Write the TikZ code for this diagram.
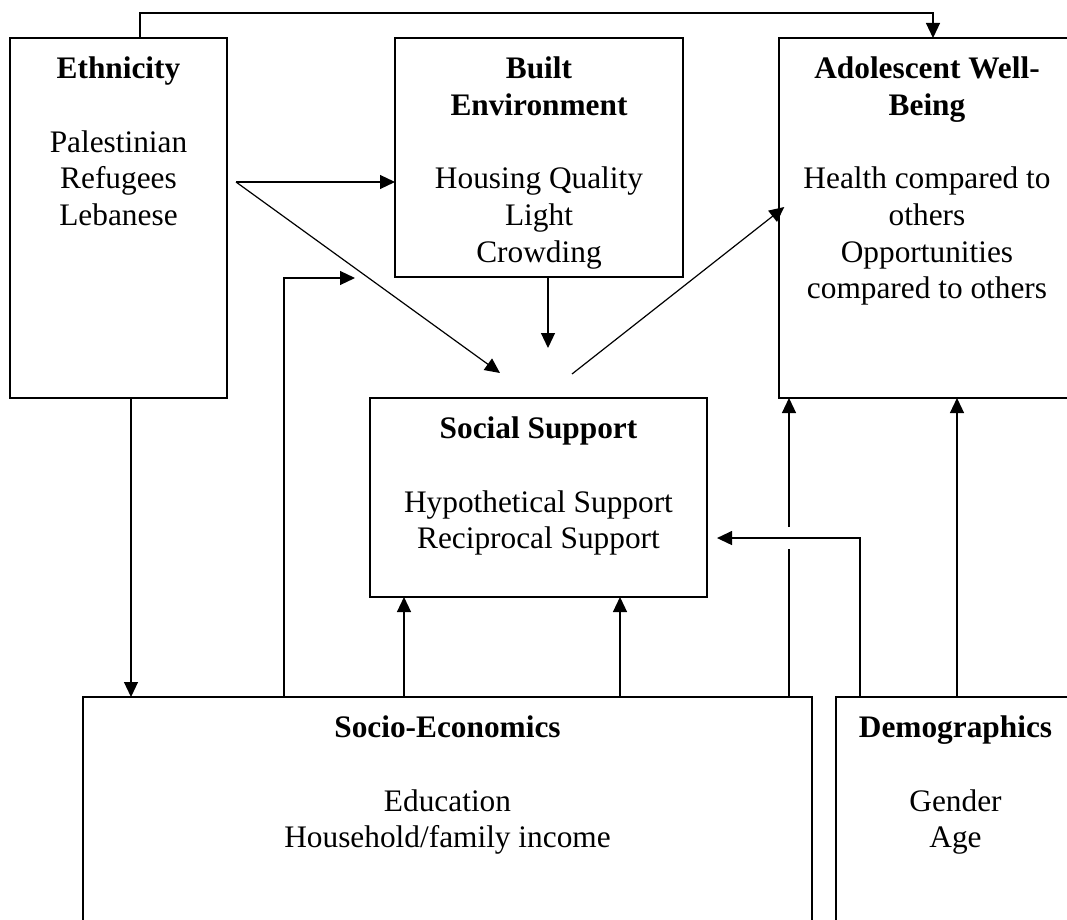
\documentclass[tikz,border=0pt]{standalone}
\usepackage{fontspec}
\setmainfont{Liberation Serif}
\usetikzlibrary{arrows.meta}

\tikzset{
  box/.style={draw, line width=1.1pt, inner sep=0pt, outer sep=0pt, anchor=north west},
  boxtext/.style={anchor=north, align=center, inner sep=0pt, inner ysep=14pt,
    font=\fontsize{23.5}{27.5}\selectfont},
  arr/.style={line width=0.9pt, -{Triangle[length=11.25pt,width=10.5pt]}},
}

\begin{document}
\begin{tikzpicture}[x=0.75pt,y=-0.75pt]
        \clip (0,0) rectangle (1067,920);

        \node[box, minimum width=162.75pt, minimum height=270pt,
          label={[boxtext]north:{\textbf{Ethnicity}\\[27.5pt]Palestinian\\Refugees\\Lebanese}}] (eth) at (10,38) {};
        \node[box, minimum width=216pt, minimum height=179.25pt,
          label={[boxtext]north:{\textbf{Built}\\\textbf{Environment}\\[27.5pt]Housing Quality\\Light\\Crowding}}] (built) at (395,38) {};
        \node[box, minimum width=222pt, minimum height=270pt,
          label={[boxtext]north:{\textbf{Adolescent Well-}\\\textbf{Being}\\[27.5pt]Health compared to\\others\\Opportunities\\compared to others}}] (adol) at (779,38) {};
        \node[box, minimum width=252.75pt, minimum height=149.25pt,
          label={[boxtext]north:{\textbf{Social Support}\\[27.5pt]Hypothetical Support\\Reciprocal Support}}] (ss) at (370,398) {};
        \node[box, minimum width=546.75pt, minimum height=197.25pt,
          label={[boxtext]north:{\textbf{Socio-Economics}\\[27.5pt]Education\\Household/family income}}] (socio) at (83,697) {};
        \node[box, minimum width=179.25pt, minimum height=197.25pt,
          label={[boxtext]north:{\textbf{Demographics}\\[27.5pt]Gender\\Age}}] (demo) at (836,697) {};

        \coordinate (fork) at (236,182);
        \coordinate (ssin) at (500,373);
        \coordinate (ssout) at (572,374);
        \coordinate (setip) at (355,278);

        % ethnicity over the top to well-being
        \draw[arr] ([xshift=16.1pt]eth.north) -- ++(0,-25) -| ([xshift=4.5pt]adol.north);
        \draw[arr] (fork) -- (fork -| built.west);
        \draw[arr] (fork) -- (ssin);
        \draw[arr] ([xshift=6.75pt]built.south) -- ++(0,71);
        \draw[arr] (ssout) -- ([xshift=4pt,yshift=8.25pt]adol.west);
        \draw[arr] ([xshift=90.75pt]eth.south west) coordinate (e) -- (e |- socio.north);

        % socio-economics upwards
        \draw[arr] ([xshift=150.75pt]socio.north west) |- (setip);
        \draw[arr] ([xshift=240.75pt]socio.north west) coordinate (s1) -- (s1 |- ss.south);
        \draw[arr] ([xshift=402.75pt]socio.north west) coordinate (s2) -- (s2 |- ss.south);
        % broken where the demographics line passes
        \draw[line width=0.9pt] ([xshift=529.5pt]socio.north west) coordinate (s3) -- ++(0,-148);
        \draw[arr] ([yshift=127.5pt]s3) -- (s3 |- adol.south);

        % demographics
        \draw[arr] ([xshift=18pt]demo.north west) |- ([xshift=7.5pt,yshift=-30.4pt]ss.east);
        \draw[arr] ([xshift=90.75pt]demo.north west) coordinate (d) -- (d |- adol.south);
\end{tikzpicture}
\end{document}
